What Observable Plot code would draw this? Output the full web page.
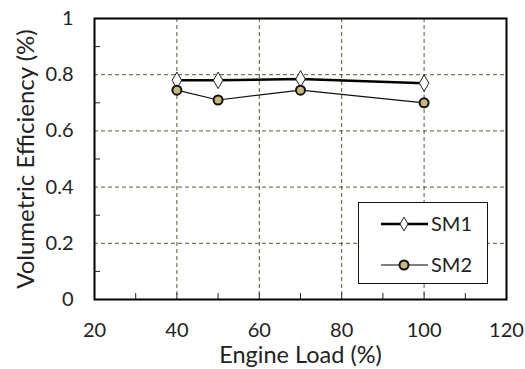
<!DOCTYPE html>
<html>
<head>
<meta charset="utf-8">
<script src="https://cdn.jsdelivr.net/npm/d3@7"></script>
<script src="https://cdn.jsdelivr.net/npm/@observablehq/plot@0.6"></script>
<style>
  html, body { margin: 0; padding: 0; background: #fff; }
  #wrap { position: relative; width: 525px; height: 369px; font-family: Lato, "Open Sans", sans-serif; }
  #legend { position: absolute; left: 358px; top: 202px; width: 130px; height: 82px; border: 1.2px solid #111; background: #fff; box-sizing: border-box; }
</style>
</head>
<body>
<div id="wrap"><div id="legend"></div></div>
<script>
const loads = [40, 50, 70, 100];
const sm1 = [0.78, 0.78, 0.785, 0.77];
const sm2 = [0.745, 0.71, 0.745, 0.70];
const seriesNames = ["SM1", "SM2"];
const xTicks = [20, 40, 60, 80, 100, 120];
const yTicks = [0, 0.2, 0.4, 0.6, 0.8, 1];
const xMinor = [30, 50, 70, 90, 110];
const yMinor = [0.1, 0.3, 0.5, 0.7, 0.9];

const d1 = loads.map((x, i) => ({x, y: sm1[i]}));
const d2 = loads.map((x, i) => ({x, y: sm2[i]}));
const gridColor = "#5e5434";
const khaki = "#c9b977";
const fmt = d => String(d);

const chart = Plot.plot({
  width: 525,
  height: 369,
  marginLeft: 94,
  marginRight: 19,
  marginTop: 18,
  marginBottom: 70,
  style: {fontFamily: "Lato, 'Open Sans', sans-serif", fontSize: "20px", color: "#222", background: "transparent"},
  x: {domain: [20, 120]},
  y: {domain: [0, 1]},
  marks: [
    Plot.gridX(xTicks.slice(1, -1), {stroke: gridColor, strokeOpacity: 1, strokeDasharray: "4,3", strokeWidth: 1}),
    Plot.gridY(yTicks.slice(1, -1), {stroke: gridColor, strokeOpacity: 1, strokeDasharray: "4,3", strokeWidth: 1}),
    Plot.axisX(xTicks, {tickSize: 0, tickPadding: 23, tickFormat: fmt, label: null, fontSize: 20}),
    Plot.axisX(xTicks, {tickSize: 0, text: null, label: "Engine Load (%)", labelAnchor: "center", labelArrow: "none", labelOffset: 63, fontSize: 23.5}),
    Plot.axisX(xTicks, {tickSize: -6, text: null, label: null}),
    Plot.axisX(xMinor, {tickSize: -6, text: null, label: null}),
    Plot.axisY(yTicks, {tickSize: 0, tickPadding: 21, tickFormat: fmt, label: null, fontSize: 20}),
    Plot.axisY(yTicks, {tickSize: 0, text: null, label: "Volumetric Efficiency (%)", labelAnchor: "center", labelArrow: "none", labelOffset: 78, fontSize: 24}),
    Plot.axisY(yMinor, {tickSize: -6, text: null, label: null}),
    Plot.line(d1, {x: "x", y: "y", stroke: "#000", strokeWidth: 2.5}),
    Plot.line(d2, {x: "x", y: "y", stroke: "#111", strokeWidth: 1.2}),
    Plot.dot(d1, {x: "x", y: "y", symbol: "diamond", r: 5, fill: "#fff", stroke: "#222", strokeWidth: 1}),
    Plot.dot(d2, {x: "x", y: "y", symbol: "circle", r: 4.5, fill: khaki, stroke: "#111", strokeWidth: 2}),
    Plot.frame({stroke: "#000", strokeWidth: 2})
  ]
});
chart.style.position = "absolute";
chart.style.left = "0";
chart.style.top = "0";
const wrap = document.getElementById("wrap");
wrap.insertBefore(chart, wrap.firstChild);

// Legend
const lg = d3.select("#legend").append("svg").attr("width", 130).attr("height", 82)
  .style("font-family", "Lato, 'Open Sans', sans-serif");
const rows = [
  {name: seriesNames[0], y: 21, sw: 2.5, sym: "diamond"},
  {name: seriesNames[1], y: 62, sw: 1.2, sym: "circle"}
];
rows.forEach(r => {
  lg.append("line").attr("x1", 22).attr("x2", 69).attr("y1", r.y).attr("y2", r.y)
    .attr("stroke", "#000").attr("stroke-width", r.sw);
  if (r.sym === "diamond") {
    lg.append("path").attr("d", d3.symbol(d3.symbolDiamond, 55)())
      .attr("transform", `translate(45,${r.y})`).attr("fill", "#fff").attr("stroke", "#222");
  } else {
    lg.append("circle").attr("cx", 45).attr("cy", r.y).attr("r", 4.5)
      .attr("fill", khaki).attr("stroke", "#111").attr("stroke-width", 2);
  }
  lg.append("text").attr("x", 72).attr("y", r.y).attr("dy", "0.35em")
    .attr("font-size", 20).attr("fill", "#222").text(r.name);
});
</script>
</body>
</html>
